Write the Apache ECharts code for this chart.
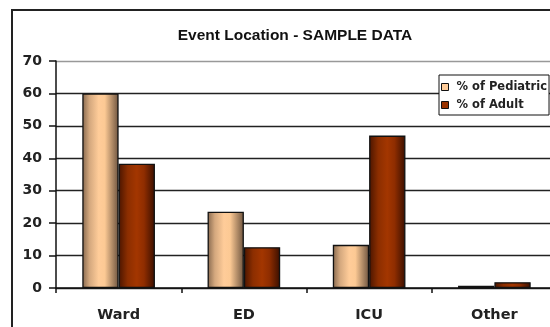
<!DOCTYPE html>
<html>
<head>
<meta charset="utf-8">
<style>html,body{margin:0;padding:0;background:#fff;}#c{width:550px;height:327px;}</style>
<script src="https://cdn.jsdelivr.net/npm/echarts@6/dist/echarts.min.js"></script>
</head>
<body>
<div id="c"></div>
<script>
var categories = ['Ward', 'ED', 'ICU', 'Other'];
var pediatric = [60, 23.5, 13.3, 0.7];
var adult = [38.3, 12.6, 47, 1.8];
var yTicks = [0, 10, 20, 30, 40, 50, 60, 70];

var chart = echarts.init(document.getElementById('c'));
var pedGrad = new echarts.graphic.LinearGradient(0, 0, 1, 0, [
  {offset: 0, color: '#86684e'}, {offset: 0.2, color: '#d4a87e'},
  {offset: 0.45, color: '#ffcc99'}, {offset: 0.62, color: '#fcc994'},
  {offset: 1, color: '#6e543f'}]);
var adGrad = new echarts.graphic.LinearGradient(0, 0, 1, 0, [
  {offset: 0, color: '#4a1500'}, {offset: 0.25, color: '#8c2e00'},
  {offset: 0.5, color: '#a33600'}, {offset: 0.7, color: '#8f2d00'},
  {offset: 1, color: '#3a0f00'}]);
var font = 'Liberation Sans, Arial, sans-serif';
var wide = 'DejaVu Sans, sans-serif';
chart.setOption({
  animation: false,
  title: {text: 'Event Location - SAMPLE DATA', left: 290, textAlign: 'center', top: 23,
    textStyle: {fontFamily: font, fontSize: 15.5, fontWeight: 'bold', color: '#111'}},
  graphic: [{type: 'rect', shape: {x: 12, y: 10, width: 620, height: 400},
    style: {fill: 'none', stroke: '#222', lineWidth: 2}, z: 100}],
  legend: {orient: 'vertical', left: 439, top: 75, itemWidth: 7, itemHeight: 7,
    itemGap: 6, padding: [6, 2, 4, 2], backgroundColor: '#fff', borderColor: '#111', borderWidth: 1,
    icon: 'rect',
    textStyle: {fontFamily: wide, fontSize: 11.5, fontWeight: 'bold', color: '#222', padding: [0, 0, 0, 3]},
    data: [{name: '% of Pediatric', itemStyle: {color: '#ffcc99', borderColor: '#111', borderWidth: 1}},
           {name: '% of Adult', itemStyle: {color: '#993300', borderColor: '#111', borderWidth: 1}}]},
  grid: {left: 56, top: 61, width: 501, height: 227, outerBoundsMode: 'none', containLabel: false},
  xAxis: {type: 'category', data: categories,
    axisLine: {lineStyle: {color: '#111', width: 1.5}},
    axisTick: {show: true, length: 5, lineStyle: {color: '#111', width: 1.5}},
    axisLabel: {fontFamily: wide, fontSize: 14.5, fontWeight: 'bold', color: '#222', margin: 20}},
  yAxis: {type: 'value', min: 0, max: 70, interval: 10,
    axisLine: {show: true, lineStyle: {color: '#111', width: 1.5}},
    axisTick: {show: true, length: 7, lineStyle: {color: '#111', width: 1.5}},
    axisLabel: {fontFamily: wide, fontSize: 14, fontWeight: 'bold', color: '#222', margin: 14,
      formatter: function (v) { return yTicks.indexOf(v) >= 0 ? String(v) : ''; }},
    splitLine: {lineStyle: {color: ['#222', '#222', '#222', '#222', '#222', '#222', '#222', '#999'], width: 1.3}}},
  series: [
    {name: '% of Pediatric', type: 'bar', data: pediatric, barGap: '0%', barCategoryGap: '42%',
      itemStyle: {color: pedGrad, borderColor: '#111', borderWidth: 1.3}},
    {name: '% of Adult', type: 'bar', data: adult,
      itemStyle: {color: adGrad, borderColor: '#111', borderWidth: 1.3}}
  ]
});
</script>
</body>
</html>
